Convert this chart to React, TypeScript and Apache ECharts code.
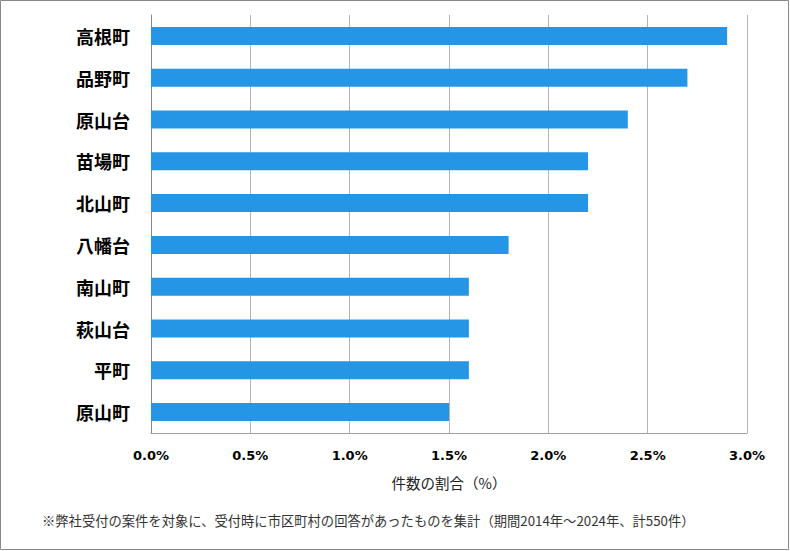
import React, { useEffect, useRef } from "react";
import * as echarts from "echarts";

const categories = ["高根町", "品野町", "原山台", "苗場町", "北山町", "八幡台", "南山町", "萩山台", "平町", "原山町"];
const shares = [2.9, 2.7, 2.4, 2.2, 2.2, 1.8, 1.6, 1.6, 1.6, 1.5];
const axisName = "件数の割合（%）";
const footnote = "※弊社受付の案件を対象に、受付時に市区町村の回答があったものを集計（期間2014年～2024年、計550件）";

export default function App() {
  const ref = useRef<HTMLDivElement>(null);
  useEffect(() => {
    if (!ref.current) return;
    const chart = echarts.init(ref.current, null, { renderer: "svg" });
    chart.setOption({
      animation: false,
      backgroundColor: "#ffffff",
      grid: { left: 151, right: 43, top: 15, bottom: 118, containLabel: false },
      xAxis: {
        type: "value",
        min: 0,
        max: 3,
        interval: 0.5,
        axisLine: { show: true, lineStyle: { color: "#a0a0a0", width: 1 } },
        axisTick: { show: false },
        splitLine: { show: true, lineStyle: { color: "#b4b4b4", width: 1 } },
        axisLabel: {
          margin: 16,
          formatter: (v: number) => v.toFixed(1) + "%",
          fontFamily: "DejaVu Sans",
          fontWeight: "bold",
          fontSize: 13,
          color: "#000",
        },
        name: axisName,
        nameLocation: "middle",
        nameGap: 42,
        nameTextStyle: { fontFamily: "Noto Sans CJK JP", fontSize: 14.5, color: "#222" },
      },
      yAxis: {
        type: "category",
        data: categories,
        inverse: true,
        axisLine: { show: true, lineStyle: { color: "#888", width: 1 } },
        axisTick: { show: false },
        splitLine: { show: false },
        axisLabel: {
          margin: 21,
          fontFamily: "Noto Sans CJK JP",
          fontWeight: "bold",
          fontSize: 18,
          color: "#000",
        },
      },
      series: [
        {
          type: "bar",
          data: shares,
          barWidth: "43%",
          itemStyle: { color: "#2595e5" },
        },
      ],
      graphic: [
        {
          type: "rect",
          shape: { x: 0.5, y: 0.5, width: 788, height: 549 },
          style: { fill: "none", stroke: "#888", lineWidth: 1 },
          silent: true,
          z: 100,
        },
        {
          type: "text",
          x: 42,
          y: 514,
          style: {
            text: footnote,
            fontFamily: "Noto Sans CJK JP",
            fontSize: 13.3,
            fill: "#333",
          },
        },
      ],
    });
    return () => chart.dispose();
  }, []);
  return (
    <div
      ref={ref}
      style={{ position: "fixed", left: 0, top: 0, width: 790, height: 551 }}
    />
  );
}
